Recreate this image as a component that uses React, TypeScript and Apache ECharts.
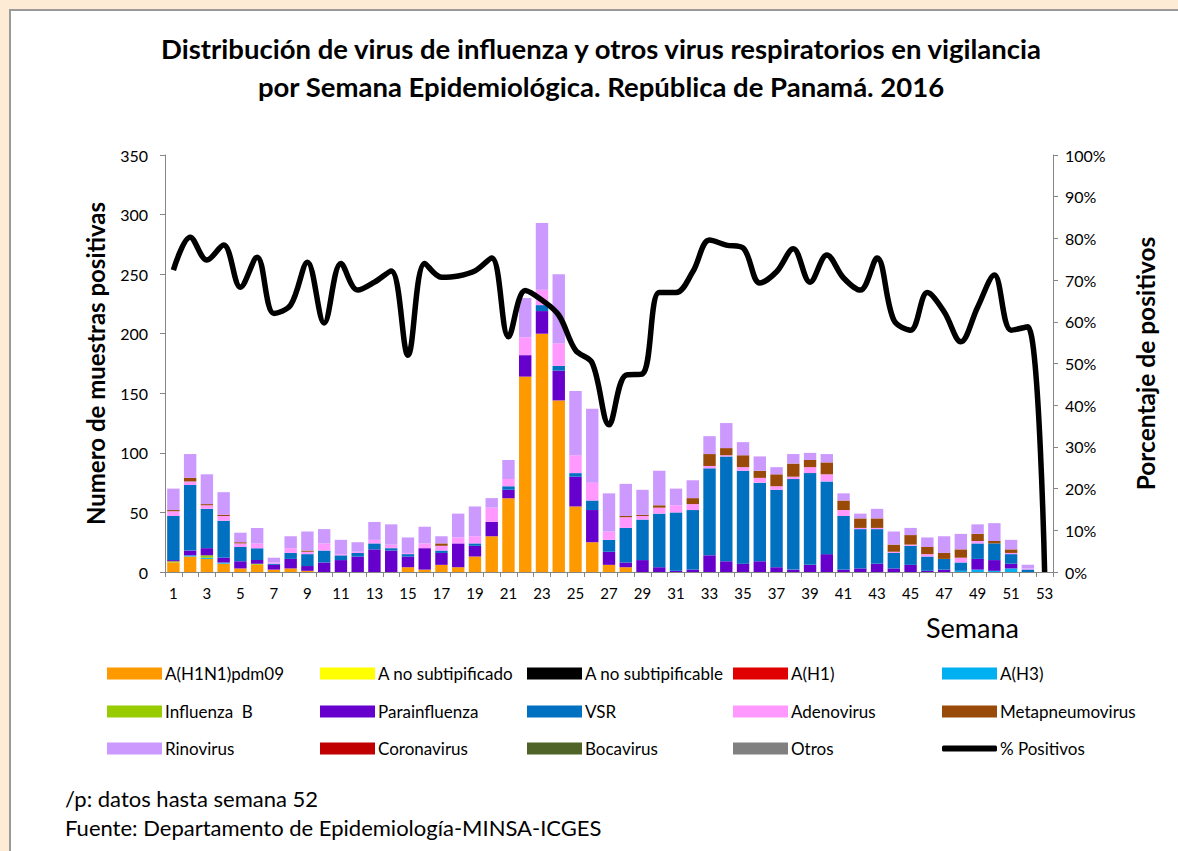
import React, { useEffect, useRef } from "react";
import * as echarts from "echarts";

const weeks = ["1","2","3","4","5","6","7","8","9","10","11","12","13","14","15","16","17","18","19","20","21","22","23","24","25","26","27","28","29","30","31","32","33","34","35","36","37","38","39","40","41","42","43","44","45","46","47","48","49","50","51","52","53"];

const h1n1 = [8,13,11,7,3,6,2,3,1,0,0,0,0,0,4,2,6,4,13,30,62,164,200,144,55,25,6,4,0,0,0,0,0,0,0,0,0,0,0,0,0,0,0,0,0,0,0,0,0,0,0,0,0];
const aNoSubtipificado = [0,0,0,0,0,0,0,0,0,0,0,0,0,0,0,0,0,0,0,0,0,0,0,0,0,0,0,0,0,0,0,0,0,0,0,0,0,0,0,0,0,0,0,0,0,0,0,0,0,0,0,0,0];
const aNoSubtipificable = [0,0,0,0,0,0,0,0,0,0,0,0,0,0,0,0,0,0,0,0,0,0,0,0,0,0,0,0,0,0,0,0,0,0,0,0,0,0,0,0,0,0,0,0,0,0,0,0,0,0,0,0,0];
const aH1 = [0,0,0,0,0,0,0,0,0,0,0,0,0,0,0,0,0,0,0,0,0,0,0,0,0,0,0,0,0,0,0,0,0,0,0,0,0,0,0,0,0,0,0,0,0,0,0,0,0,0,0,0,0];
const aH3 = [0,1,1,1,0,0,0,0,0,0,0,0,0,0,0,0,0,0,0,0,0,0,0,0,0,0,0,0,0,0,0,0,0,0,0,0,0,0,0,0,0,0,0,0,0,0,0,1,2,1,3,0,0];
const influenzaB = [1,0,2,0,0,1,0,0,0,0,0,0,0,0,0,0,0,0,0,0,0,0,0,0,0,0,0,0,0,0,0,0,0,0,0,0,0,0,0,0,0,0,0,0,0,0,0,0,0,0,0,0,0];
const parainfluenza = [1,4,6,4,6,3,4,8,4,8,10,13,19,18,9,18,10,20,9,12,7,18,19,25,25,27,11,4,10,4,1,2,14,9,7,9,4,2,6,15,2,3,7,3,6,1,2,0,9,9,4,0,0];
const vsr = [37,55,33,31,12,10,1,5,10,10,4,3,5,2,2,0,2,0,2,0,3,0,5,4,3,8,10,29,34,45,49,50,73,88,78,66,65,76,77,61,45,33,29,13,16,12,9,7,13,14,8,2,0];
const adenovirus = [4,3,3,4,3,4,1,4,2,6,1,1,3,3,1,4,4,5,6,12,6,15,13,19,15,15,7,9,3,5,6,5,2,1,3,4,3,2,5,6,5,1,1,1,1,2,0,4,2,0,1,1,0];
const metapneumovirus = [1,3,1,1,1,0,0,0,1,0,0,0,0,0,0,0,2,0,0,0,0,0,0,0,0,0,0,1,1,2,0,5,10,6,10,6,10,11,6,10,8,8,8,6,8,6,5,7,6,2,3,0,0];
const rinovirus = [18,20,25,19,8,13,4,10,16,12,12,8,15,17,13,14,6,20,25,8,16,33,56,58,54,62,32,27,21,29,14,15,15,21,11,12,6,8,6,7,6,4,8,11,6,8,14,13,8,15,8,3,0];
const coronavirus = [0,0,0,0,0,0,0,0,0,0,0,0,0,0,0,0,0,0,0,0,0,0,0,0,0,0,0,0,0,0,0,0,0,0,0,0,0,0,0,0,0,0,0,0,0,0,0,0,0,0,0,0,0];
const bocavirus = [0,0,0,0,0,0,0,0,0,0,0,0,0,0,0,0,0,0,0,0,0,0,0,0,0,0,0,0,0,0,0,0,0,0,0,0,0,0,0,0,0,0,0,0,0,0,0,0,0,0,0,0,0];
const otros = [0,0,0,0,0,0,0,0,0,0,0,0,0,0,0,0,0,0,0,0,0,0,0,0,0,0,0,0,0,0,0,0,0,0,0,0,0,0,0,0,0,0,0,0,0,0,0,0,0,0,0,0,0];
const pctPositivos = [72.4,80.3,74.8,78.4,68.3,75.5,62,64,74.3,59.7,74,67.6,69.5,72.2,52,74,70.7,71,72.2,75.3,56.4,67.5,65.2,61.6,53.2,50.1,35.3,47.2,47.5,67,67,72,79.6,78.4,77.7,69.3,72,77.5,69.5,76,70.5,67.6,75.3,60.4,58,67,62.4,55.2,63.5,71.2,58,58.8,0];

const barSeries = [
  { name: "A(H1N1)pdm09", data: h1n1, color: "#FF9900" },
  { name: "A no subtipificado", data: aNoSubtipificado, color: "#FFFF00" },
  { name: "A no subtipificable", data: aNoSubtipificable, color: "#000000" },
  { name: "A(H1)", data: aH1, color: "#E00000" },
  { name: "A(H3)", data: aH3, color: "#00B0F0" },
  { name: "Influenza  B", data: influenzaB, color: "#99CC00" },
  { name: "Parainfluenza", data: parainfluenza, color: "#6600CC" },
  { name: "VSR", data: vsr, color: "#0070C0" },
  { name: "Adenovirus", data: adenovirus, color: "#FF99FF" },
  { name: "Metapneumovirus", data: metapneumovirus, color: "#994A08" },
  { name: "Rinovirus", data: rinovirus, color: "#CC99FF" },
  { name: "Coronavirus", data: coronavirus, color: "#C00000" },
  { name: "Bocavirus", data: bocavirus, color: "#4F6228" },
  { name: "Otros", data: otros, color: "#808080" },
];

const legendOrder = [
  "A(H1N1)pdm09", "A no subtipificado", "A no subtipificable", "A(H1)", "A(H3)",
  "Influenza  B", "Parainfluenza", "VSR", "Adenovirus", "Metapneumovirus",
  "Rinovirus", "Coronavirus", "Bocavirus", "Otros", "% Positivos",
];

const FONT = "Lato";

export default function App() {
  const ref = useRef<HTMLDivElement>(null);
  useEffect(() => {
    if (!ref.current) return;
    const chart = echarts.init(ref.current, undefined, { renderer: "svg" });
    const colX = [107, 320, 527, 733, 942];
    const rowY = [665, 703, 740];
    const legends = legendOrder.map((name, i) => {
      const isLine = name === "% Positivos";
      return {
        data: [name],
        left: colX[i % 5],
        top: rowY[Math.floor(i / 5)],
        itemWidth: 55,
        itemHeight: isLine ? 6 : 12,
        itemGap: 0,
        padding: 0,
        icon: isLine ? "roundRect" : "rect",
        selectedMode: false,
        textStyle: { fontSize: 17, color: "#000", fontFamily: FONT, padding: [0, 0, 0, -2] },
      };
    });
    const option: any = {
      animation: false,
      backgroundColor: "#FDEBD5",
      textStyle: { fontFamily: FONT },
      title: {
        text: "Distribución de virus de influenza y otros virus respiratorios en vigilancia\npor Semana Epidemiológica. República de Panamá. 2016",
        left: 596,
        top: 24,
        textAlign: "center",
        textStyle: { fontSize: 27.5, fontWeight: "bold", color: "#000", lineHeight: 38, fontFamily: FONT },
      },
      legend: legends,
      grid: { left: 165, right: 125, top: 155, bottom: 279, containLabel: false },
      xAxis: {
        type: "category",
        data: weeks,
        axisLine: { lineStyle: { color: "#868686", width: 1 } },
        axisTick: { show: true, interval: 0, length: 5, lineStyle: { color: "#868686" } },
        axisLabel: { interval: 1, fontSize: 15, color: "#000", margin: 13 },
      },
      yAxis: [
        {
          type: "value",
          min: 0,
          max: 350,
          interval: 50,
          splitLine: { show: false },
          axisLine: { show: true, lineStyle: { color: "#868686" } },
          axisTick: { show: true, length: 5, lineStyle: { color: "#868686" } },
          axisLabel: { fontSize: 16, color: "#000", margin: 17 },
          name: "Numero de muestras positivas",
          nameLocation: "middle",
          nameRotate: 90,
          nameGap: 58,
          nameTextStyle: { fontSize: 24, fontWeight: "bold", color: "#000" },
        },
        {
          type: "value",
          position: "right",
          min: 0,
          max: 100,
          interval: 10,
          splitLine: { show: false },
          axisLine: { show: true, lineStyle: { color: "#868686" } },
          axisTick: { show: true, length: 5, lineStyle: { color: "#868686" } },
          axisLabel: { fontSize: 16, color: "#000", margin: 12, formatter: "{value}%" },
          name: "Porcentaje de positivos",
          nameLocation: "middle",
          nameRotate: 90,
          nameGap: 80,
          nameTextStyle: { fontSize: 24.5, fontWeight: "bold", color: "#000" },
        },
      ],
      graphic: [
        {
          type: "rect",
          z: -100,
          silent: true,
          shape: { x: 10, y: 10, width: 1200, height: 900 },
          style: { fill: "#FFFFFF", stroke: "#9A9A9A", lineWidth: 2 },
        },
        {
          type: "text",
          left: 926,
          top: 614,
          style: { text: "Semana", fontSize: 27, fill: "#000", fontFamily: FONT },
        },
        {
          type: "text",
          left: 65,
          top: 787,
          style: { text: "/p: datos hasta semana 52", fontSize: 22, fill: "#000", fontFamily: FONT },
        },
        {
          type: "text",
          left: 65,
          top: 816,
          style: { text: "Fuente: Departamento de Epidemiología-MINSA-ICGES", fontSize: 22, fill: "#000", fontFamily: FONT },
        },
      ],
      series: [
        ...barSeries.map((s) => ({
          name: s.name,
          type: "bar",
          stack: "virus",
          yAxisIndex: 0,
          data: s.data,
          barWidth: "74%",
          itemStyle: { color: s.color },
        })),
        {
          name: "% Positivos",
          type: "line",
          yAxisIndex: 1,
          data: pctPositivos,
          smooth: 0.35,
          symbol: "none",
          z: 10,
          itemStyle: { color: "#000" },
          lineStyle: { color: "#000", width: 5.5 },
        },
      ],
    };
    chart.setOption(option);
    return () => chart.dispose();
  }, []);
  return (
    <div
      ref={ref}
      style={{ position: "fixed", left: 0, top: 0, width: 1178, height: 851 }}
    />
  );
}
